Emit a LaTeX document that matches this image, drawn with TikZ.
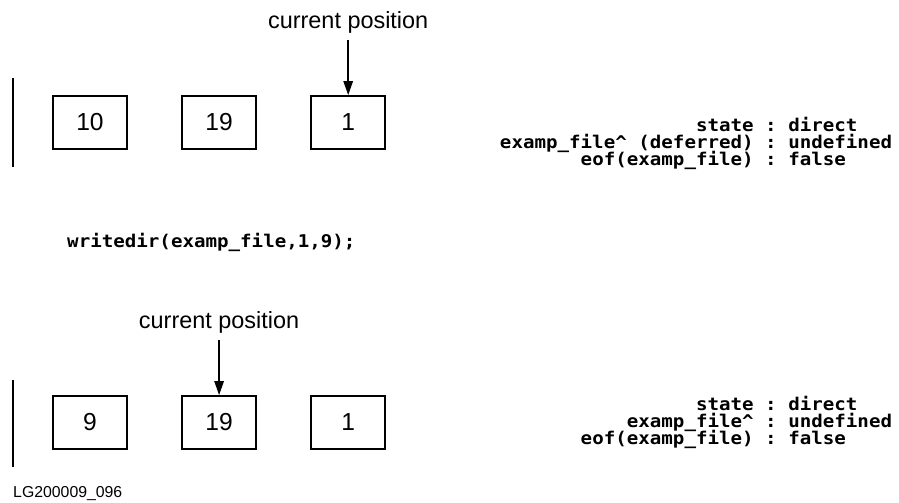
\documentclass[tikz,border=0pt]{standalone}
\usepackage{fontspec}
\setmainfont{Liberation Sans}
\newfontfamily\codefont[FakeStretch=1.09]{DejaVu Sans Mono}
\usetikzlibrary{arrows.meta, positioning}

\begin{document}
\begin{tikzpicture}[x=0.03cm, y=-0.03cm,
    cell/.style={rectangle, draw, line width=1.5pt, minimum width=2.22cm, minimum height=1.59cm, inner sep=0pt, font=\fontsize{21}{25}\selectfont},
    cur/.style={inner sep=0pt, font=\fontsize{20}{24}\selectfont},
    code/.style={inner sep=0pt, anchor=base, font=\codefont\bfseries\fontsize{15}{17}\selectfont},
    a/.style={-{Triangle[length=0.42cm, width=0.28cm]}, line width=1.5pt, shorten <=0.21cm},
    bar/.style={line width=1.7pt},
]
\useasboundingbox (0,0) rectangle (899,502);

% before the call
\draw[bar] (13,78) -- (13,167);
\node[cell] (a1) at (90,122.5) {10};
\node[cell, right=1.6cm of a1] (a2) {19};
\node[cell, right=1.6cm of a2] (a3) {1};
\node[cur, above=1.86cm of a3] (c1) {current position};
\draw[a] (c1) -- (a3);

\node[code] (s1) at (771,131) {\llap{state }:\rlap{ direct}};
\node[code] (f1) at (771,148) {\llap{examp\_file\textasciicircum{} (deferred) }:\rlap{ undefined}};
\node[code] (e1) at (771,165) {\llap{eof(examp\_file) }:\rlap{ false}};

\node[code, anchor=base west] (call) at (67,247) {writedir(examp\_file,1,9);};

% after the call
\draw[bar] (13,380) -- (13,467);
\node[cell] (b1) at (90,422.5) {9};
\node[cell, right=1.6cm of b1] (b2) {19};
\node[cell, right=1.6cm of b2] (b3) {1};
\node[cur, above=1.86cm of b2] (c2) {current position};
\draw[a] (c2) -- (b2);

\node[code] (s2) at (771,410) {\llap{state }:\rlap{ direct}};
\node[code] (f2) at (771,427) {\llap{examp\_file\textasciicircum{} }:\rlap{ undefined}};
\node[code] (e2) at (771,444) {\llap{eof(examp\_file) }:\rlap{ false}};

\node[inner sep=0pt, anchor=base west, font=\fontsize{13.5}{16}\selectfont] (tag) at (13,497) {LG200009\_096};
\end{tikzpicture}
\end{document}
